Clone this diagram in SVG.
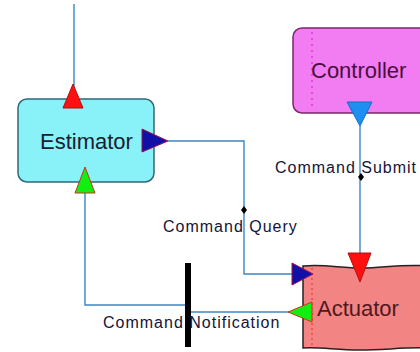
<svg xmlns="http://www.w3.org/2000/svg" width="420" height="352" viewBox="0 0 420 352">
  <style>
    .wire { fill: none; stroke: #3d86c2; stroke-width: 1.4; }
    .node-label { font-family: "Liberation Sans", Arial, sans-serif; font-size: 22px; }
    .edge-label { font-family: "Liberation Sans", Arial, sans-serif; font-size: 16px; letter-spacing: 1px; fill: #141438; }
    .tri-red { fill: #ff1010; stroke: #b01010; stroke-width: 1; }
    .tri-green { fill: #10f010; stroke: #d03020; stroke-width: 1; }
    .tri-navy { fill: #1010a8; stroke: #a0104a; stroke-width: 1; }
    .tri-blue { fill: #1e8ef0; stroke: #1070c8; stroke-width: 1; }
    .diamond { fill: #000; }
  </style>
  <rect width="420" height="352" fill="#ffffff"/>

  <!-- connectors -->
  <g id="connectors">
    <!-- incoming from above into Estimator -->
    <line class="wire" x1="74" y1="4" x2="74" y2="86"/>
    <!-- Command Query: Estimator -> Actuator -->
    <polyline class="wire" points="168,141 244,141 244,274 294,274"/>
    <path class="diamond" d="M244,206 L247,210 L244,214 L241,210 Z"/>
    <text class="edge-label" x="163" y="232">Command Query</text>
    <!-- Command Submit: Controller -> Actuator -->
    <line class="wire" x1="360" y1="126" x2="360" y2="254"/>
    <path class="diamond" d="M361,173 L364,177 L361,181 L358,177 Z"/>
    <text class="edge-label" x="275" y="173">Command Submit</text>
    <!-- Command Notification: Actuator -> bar -> Estimator -->
    <polyline class="wire" points="85,192 85,305 188,305"/>
    <line class="wire" x1="188" y1="312" x2="289" y2="312"/>
    <rect x="185" y="263" width="6" height="84" fill="#000"/>
    <text class="edge-label" x="103" y="328">Command Notification</text>
  </g>

  <!-- Estimator -->
  <g id="estimator">
    <rect x="18" y="99" width="136" height="83" rx="9" fill="#88f2f8" stroke="#2f6878" stroke-width="1.5"/>
    <text class="node-label" x="40" y="149" fill="#1a2030">Estimator</text>
    <path class="tri-red" d="M73,84 L83,108 L63,108 Z"/>
    <path class="tri-navy" d="M142,129 L168,141 L142,152 Z"/>
    <path class="tri-green" d="M85,167 L95,193 L75,193 Z"/>
  </g>

  <!-- Controller -->
  <g id="controller">
    <rect x="293" y="28" width="140" height="85" rx="9" fill="#f27cf2" stroke="#7a2a6a" stroke-width="1.5"/>
    <line x1="312" y1="32" x2="312" y2="108" stroke="#e010e0" stroke-width="1" stroke-dasharray="2,4"/>
    <text class="node-label" x="311" y="78" fill="#4a1040">Controller</text>
    <path class="tri-blue" d="M347,102 L372,102 L360,126 Z"/>
  </g>

  <!-- Actuator: box with a gently rippled top and bottom edge -->
  <g id="actuator">
    <path d="M303,266 C325,264 340,268 362,268 S398,264 430,266 L430,348 C405,347 385,350 360,350 S322,347 303,348 Z" fill="#f28484" stroke="#2a2020" stroke-width="1.5"/>
    <line x1="312" y1="268" x2="312" y2="348" stroke="#ff2020" stroke-width="1" stroke-dasharray="2,3"/>
    <text class="node-label" x="317" y="316" fill="#501820">Actuator</text>
    <path class="tri-red" d="M348,253 L371,253 L360,282 Z"/>
    <path class="tri-navy" d="M292,263 L313,274 L292,285 Z"/>
    <path class="tri-green" d="M288,312 L312,302 L312,322 Z"/>
  </g>
</svg>
